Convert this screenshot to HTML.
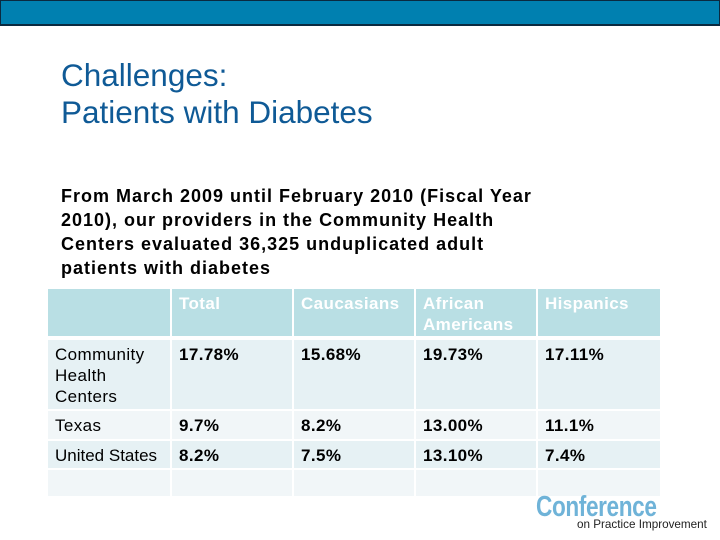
<!DOCTYPE html>
<html><head><meta charset="utf-8"><style>
body{margin:0;width:720px;height:540px;position:relative;background:#fff;font-family:"Liberation Sans",Arial,sans-serif;overflow:hidden}
.a{position:absolute}
.c{position:absolute;box-sizing:border-box;padding:4px 7px;font-size:17px;line-height:21px;color:#000;letter-spacing:0.4px}
.h{background:#b9dfe4;color:#fff;font-weight:bold}
.r1{background:#e6f1f4}
.r2{background:#f1f6f8}
.b{font-weight:bold}
</style></head><body>
<div class="a" style="left:0;top:0;width:718px;height:23px;background:#0080b0;border:1px solid #0a2a40;border-bottom-width:2px"></div>
<div class="a" style="left:61px;top:57px;font-size:31.5px;line-height:37px;color:#0f5a96">Challenges:<br>Patients with Diabetes</div>
<div class="a" style="left:61px;top:184px;width:480px;font-size:18px;line-height:24px;font-weight:bold;color:#000;letter-spacing:1px">From March 2009 until February 2010 (Fiscal Year 2010), our providers in the Community Health Centers evaluated 36,325 unduplicated adult patients with diabetes</div>
<div>
<div class="c h" style="left:48px;top:289px;width:122px;height:47px"></div>
<div class="c h" style="left:172px;top:289px;width:120px;height:47px">Total</div>
<div class="c h" style="left:294px;top:289px;width:120px;height:47px">Caucasians</div>
<div class="c h" style="left:416px;top:289px;width:120px;height:47px">African Americans</div>
<div class="c h" style="left:538px;top:289px;width:122px;height:47px">Hispanics</div>

<div class="c r1" style="left:48px;top:340px;width:122px;height:69px">Community Health Centers</div>
<div class="c r1 b" style="left:172px;top:340px;width:120px;height:69px">17.78%</div>
<div class="c r1 b" style="left:294px;top:340px;width:120px;height:69px">15.68%</div>
<div class="c r1 b" style="left:416px;top:340px;width:120px;height:69px">19.73%</div>
<div class="c r1 b" style="left:538px;top:340px;width:122px;height:69px">17.11%</div>

<div class="c r2" style="left:48px;top:411px;width:122px;height:28px">Texas</div>
<div class="c r2 b" style="left:172px;top:411px;width:120px;height:28px">9.7%</div>
<div class="c r2 b" style="left:294px;top:411px;width:120px;height:28px">8.2%</div>
<div class="c r2 b" style="left:416px;top:411px;width:120px;height:28px">13.00%</div>
<div class="c r2 b" style="left:538px;top:411px;width:122px;height:28px">11.1%</div>

<div class="c r1" style="left:48px;top:441px;width:122px;height:27px;letter-spacing:0">United States</div>
<div class="c r1 b" style="left:172px;top:441px;width:120px;height:27px">8.2%</div>
<div class="c r1 b" style="left:294px;top:441px;width:120px;height:27px">7.5%</div>
<div class="c r1 b" style="left:416px;top:441px;width:120px;height:27px">13.10%</div>
<div class="c r1 b" style="left:538px;top:441px;width:122px;height:27px">7.4%</div>

<div class="c r2" style="left:48px;top:470px;width:122px;height:26px"></div>
<div class="c r2" style="left:172px;top:470px;width:120px;height:26px"></div>
<div class="c r2" style="left:294px;top:470px;width:120px;height:26px"></div>
<div class="c r2" style="left:416px;top:470px;width:120px;height:26px"></div>
<div class="c r2" style="left:538px;top:470px;width:122px;height:26px"></div>
</div>
<div class="a" style="left:536px;top:492px;font-size:29px;line-height:30px;font-weight:bold;color:#6fb3d8;letter-spacing:-0.5px;transform:scaleX(0.78);transform-origin:left">Conference</div>
<div class="a" style="left:577px;top:518px;font-size:11.7px;line-height:13px;color:#222">on Practice Improvement</div>
</body></html>
